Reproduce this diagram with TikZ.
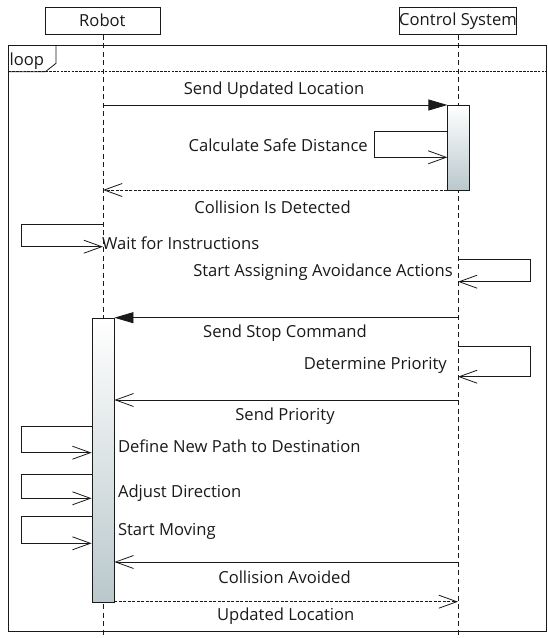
\documentclass[tikz,border=0pt]{standalone}
\usepackage{fontspec}
\setmainfont{Open Sans}
\usetikzlibrary{arrows.meta}
\definecolor{ink}{HTML}{1A1A1A}
\definecolor{actlo}{HTML}{B9C8CC}
\tikzset{
  x=1pt,y=-1pt,
  every node/.style={font=\fontsize{16.6}{18}\selectfont,text=ink,inner sep=0pt},
  lifebox/.style={draw=ink,line width=0.8pt,minimum width=115pt,minimum height=27pt,inner sep=0pt},
  lifeline/.style={draw=ink,line width=0.8pt,dash pattern=on 5pt off 3.5pt},
  actbar/.style={draw=ink,line width=0.8pt,top color=white,bottom color=actlo},
  syncmsg/.style={draw=ink,line width=0.8pt,-{Triangle[length=19pt,width=11pt]}},
  asyncmsg/.style={draw=ink,line width=0.8pt,-{Straight Barb[length=18pt,width=13pt,line width=0.8pt]}},
  replymsg/.style={asyncmsg,dash pattern=on 3pt off 1.5pt},
  framebox/.style={draw=ink,line width=0.8pt},
  lbl/.style={anchor=center},
}
\begin{document}
\begin{tikzpicture}
\useasboundingbox (0,0) rectangle (548,638);
\fill[white] (0,0) rectangle (548,638);
% lifeline heads
\node[lifebox] (robot) at (102.4,20.7) {Robot};
\node[lifebox] (ctrl) at (458,20.7) {Control System};
% lifelines
\coordinate (rEnd) at (103,638);
\coordinate (cEnd) at (458,638);
\draw[lifeline] (robot.south -| rEnd) -- (rEnd);
\draw[lifeline] (ctrl.south -| cEnd) -- (cEnd);
% loop frame
\coordinate (fTL) at (8.7,45.7);
\coordinate (fBR) at (546,631);
\draw[framebox] (fTL) rectangle (fBR);
\draw[framebox] (8.7,71.7) -- (45.4,71.7) -- (56,63.3) -- (56,45.7);
\draw[ink,line width=0.8pt,dash pattern=on 2.5pt off 1.2pt] (8.7,71.7) -- (546,71.7);
\node[anchor=west] (looplbl) at (9.5,61) {loop};
% activation bars
\node[actbar,minimum width=21.6pt,minimum height=85pt,anchor=north west] (actC) at (447.4,105) {};
\node[actbar,minimum width=22pt,minimum height=284pt,anchor=north west] (actR) at (91.6,317.7) {};
% Send Updated Location
\coordinate (m1s) at (103,105);
\draw[syncmsg] (m1s) -- (m1s -| actC.west);
\node[lbl] (m1) at (274,90) {Send Updated Location};
% Calculate Safe Distance
\coordinate (s1a) at (447.4,131.7);
\coordinate (s1b) at (447.4,157.3);
\draw[asyncmsg] (s1a) -- ++(-73,0) |- (s1b);
\node[anchor=east] (s1) at (368,145) {Calculate Safe Distance};
% Collision Is Detected (reply)
\coordinate (m2e) at (103,190);
\draw[replymsg] (m2e -| actC.west) -- (m2e);
\node[lbl] (m2) at (272.5,207.5) {Collision Is Detected};
% Wait for Instructions
\coordinate (s2a) at (103,224);
\coordinate (s2b) at (103,246.7);
\draw[asyncmsg] (s2a) -- ++(-82,0) |- (s2b);
\node[anchor=west] (s2) at (102,243) {Wait for Instructions};
% Start Assigning Avoidance Actions
\coordinate (s3a) at (458,259);
\coordinate (s3b) at (458,281.7);
\draw[asyncmsg] (s3a) -- ++(72.6,0) |- (s3b);
\node[anchor=east] (s3) at (453,272.5) {Start Assigning Avoidance Actions};
% Send Stop Command
\coordinate (m3s) at (458,317.7);
\draw[syncmsg] (m3s) -- (m3s -| actR.east);
\node[lbl] (m3) at (285,333.3) {Send Stop Command};
% Determine Priority
\coordinate (s4a) at (458,346.7);
\coordinate (s4b) at (458,376.7);
\draw[asyncmsg] (s4a) -- ++(72.6,0) |- (s4b);
\node[anchor=east] (s4) at (447,365) {Determine Priority};
% Send Priority
\coordinate (m4s) at (458,400);
\draw[asyncmsg] (m4s) -- (m4s -| actR.east);
\node[lbl] (m4) at (285,416) {Send Priority};
% Define New Path to Destination
\coordinate (s5a) at (91.6,426);
\coordinate (s5b) at (91.6,452.7);
\draw[asyncmsg] (s5a) -- ++(-70.6,0) |- (s5b);
\node[anchor=west] (s5) at (117.8,446.7) {Define New Path to Destination};
% Adjust Direction
\coordinate (s6a) at (91.6,474.3);
\coordinate (s6b) at (91.6,498.3);
\draw[asyncmsg] (s6a) -- ++(-70.6,0) |- (s6b);
\node[anchor=west] (s6) at (117.8,492.7) {Adjust Direction};
% Start Moving
\coordinate (s7a) at (91.6,516.7);
\coordinate (s7b) at (91.6,543.3);
\draw[asyncmsg] (s7a) -- ++(-70.6,0) |- (s7b);
\node[anchor=west] (s7) at (117.8,531.7) {Start Moving};
% Collision Avoided
\coordinate (m5s) at (458,562);
\draw[asyncmsg] (m5s) -- (m5s -| actR.east);
\node[lbl] (m5) at (284.5,577.7) {Collision Avoided};
% Updated Location (reply)
\coordinate (m6e) at (458,601.7);
\draw[replymsg] (m6e -| actR.east) -- (m6e);
\node[lbl] (m6) at (285.7,615.7) {Updated Location};
\end{tikzpicture}
\end{document}
